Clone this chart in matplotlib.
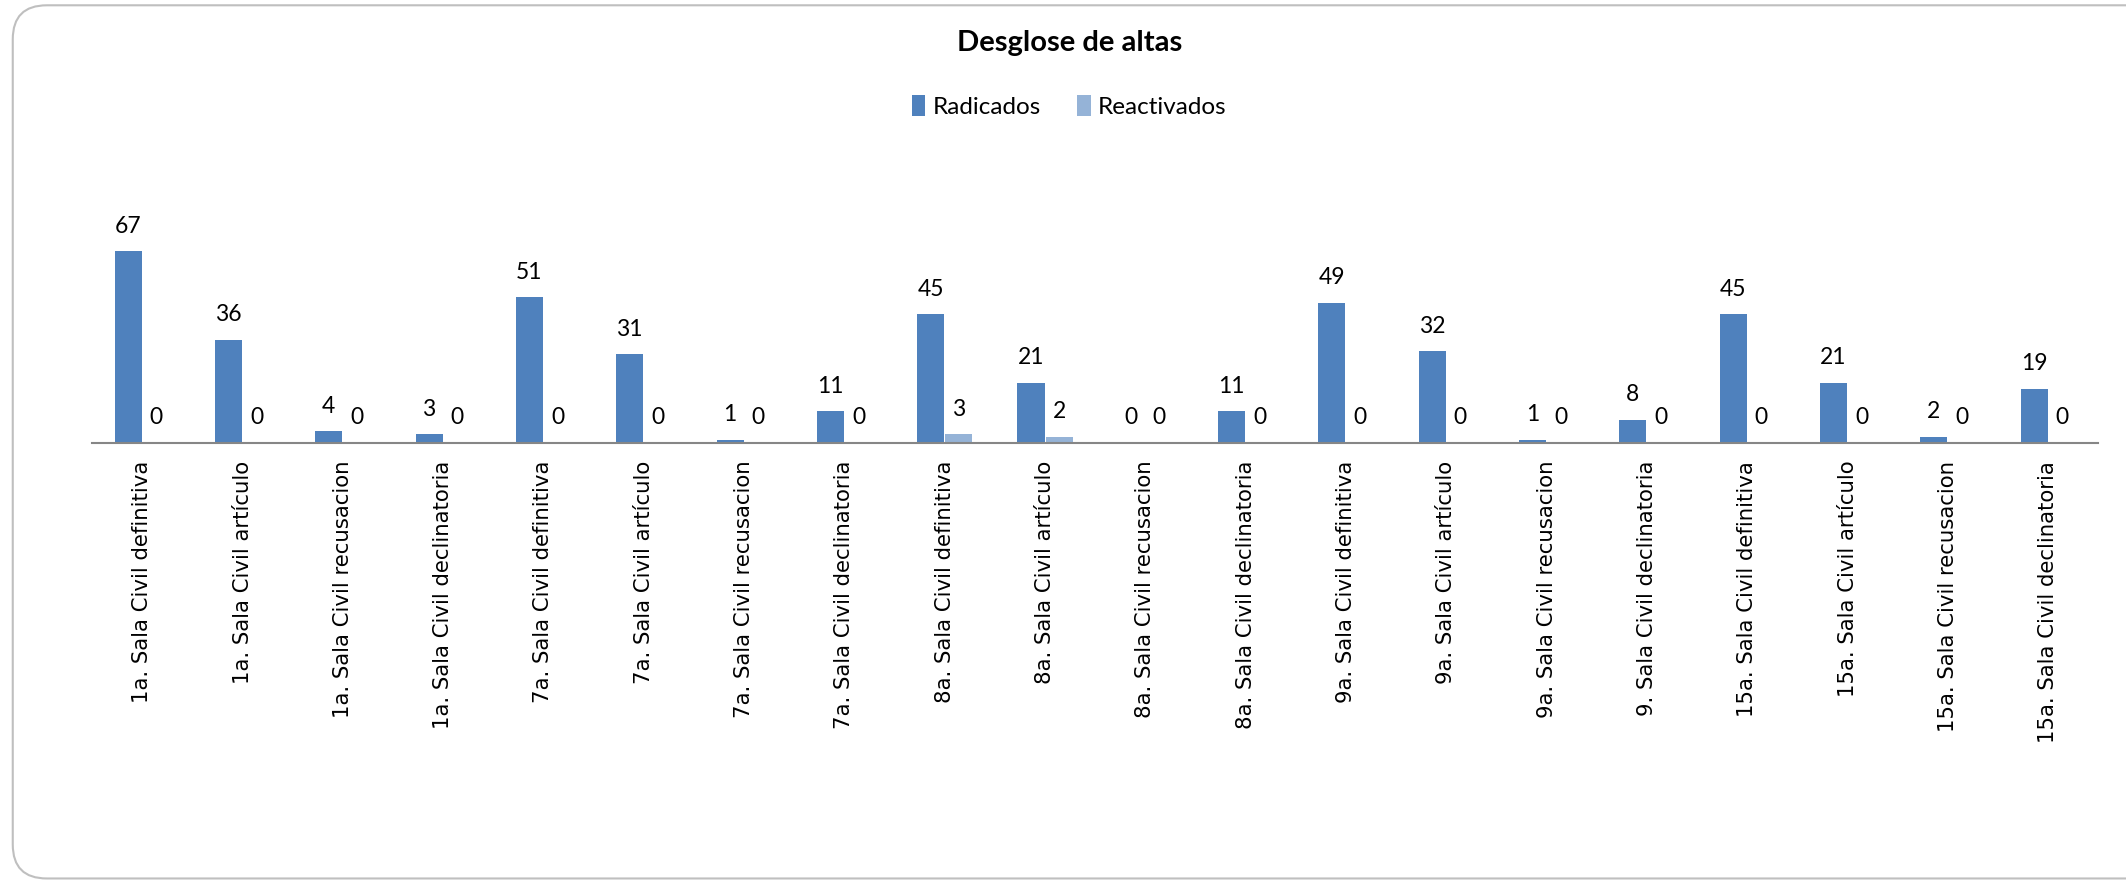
import matplotlib.pyplot as plt
import numpy as np
from matplotlib.patches import FancyBboxPatch

categorias = [
    "1a. Sala Civil definitiva", "1a. Sala Civil artículo", "1a. Sala Civil recusacion",
    "1a. Sala Civil declinatoria", "7a. Sala Civil definitiva", "7a. Sala Civil artículo",
    "7a. Sala Civil recusacion", "7a. Sala Civil declinatoria", "8a. Sala Civil definitiva",
    "8a. Sala Civil artículo", "8a. Sala Civil recusacion", "8a. Sala Civil declinatoria",
    "9a. Sala Civil definitiva", "9a. Sala Civil artículo", "9a. Sala Civil recusacion",
    "9. Sala Civil declinatoria", "15a. Sala Civil definitiva", "15a. Sala Civil artículo",
    "15a. Sala Civil recusacion", "15a. Sala Civil declinatoria",
]
radicados = [67, 36, 4, 3, 51, 31, 1, 11, 45, 21, 0, 11, 49, 32, 1, 8, 45, 21, 2, 19]
reactivados = [0, 0, 0, 0, 0, 0, 0, 0, 3, 2, 0, 0, 0, 0, 0, 0, 0, 0, 0, 0]

fig = plt.figure(figsize=(21.26, 8.82), dpi=100, facecolor="white")

# marco redondeado del grafico
marco = FancyBboxPatch((0.006, 0.004), 1.2, 0.99, boxstyle="round,pad=0,rounding_size=0.016",
                       transform=fig.transFigure, facecolor="none", edgecolor="#BFBFBF",
                       linewidth=1.5, mutation_aspect=2126 / 882, zorder=0)
fig.patches.append(marco)

ax = fig.add_axes([0.0433, 0.498, 0.9437, 0.259], zorder=2)
ax.patch.set_alpha(0)
x = np.arange(len(categorias))
w = 0.27
b1 = ax.bar(x - 0.14, radicados, w, color="#4F81BD", label="Radicados")
b2 = ax.bar(x + 0.14, reactivados, w, color="#95B3D7", label="Reactivados")

for bars in (b1, b2):
    for r in bars:
        ax.annotate(str(int(r.get_height())), (r.get_x() + r.get_width() / 2, r.get_height()),
                    xytext=(0, 10.5), textcoords="offset points", ha="center", va="bottom",
                    fontsize=16.5, family="Lato")

ax.set_xlim(-0.5, len(categorias) - 0.5)
ax.set_ylim(0, 80)
ax.set_xticks(x)
ax.set_xticklabels(categorias, rotation=90, fontsize=15.3, family="DejaVu Sans")
ax.tick_params(axis="x", length=0, pad=13)
ax.set_yticks([])
for s in ["top", "right", "left"]:
    ax.spines[s].set_visible(False)
ax.spines["bottom"].set_color("#868686")
ax.spines["bottom"].set_linewidth(1.5)

fig.text(0.503, 0.951, "Desglose de altas", ha="center", va="center",
         fontsize=21, fontweight="bold", family="Lato")
fig.legend(handles=[b1, b2], loc="center", bbox_to_anchor=(0.503, 0.879), ncol=2,
           frameon=False, prop={"family": "Lato", "size": 17.5},
           handlelength=0.55, handleheight=0.9, handletextpad=0.3, columnspacing=1.5)

fig.savefig("out.png", dpi=100)
